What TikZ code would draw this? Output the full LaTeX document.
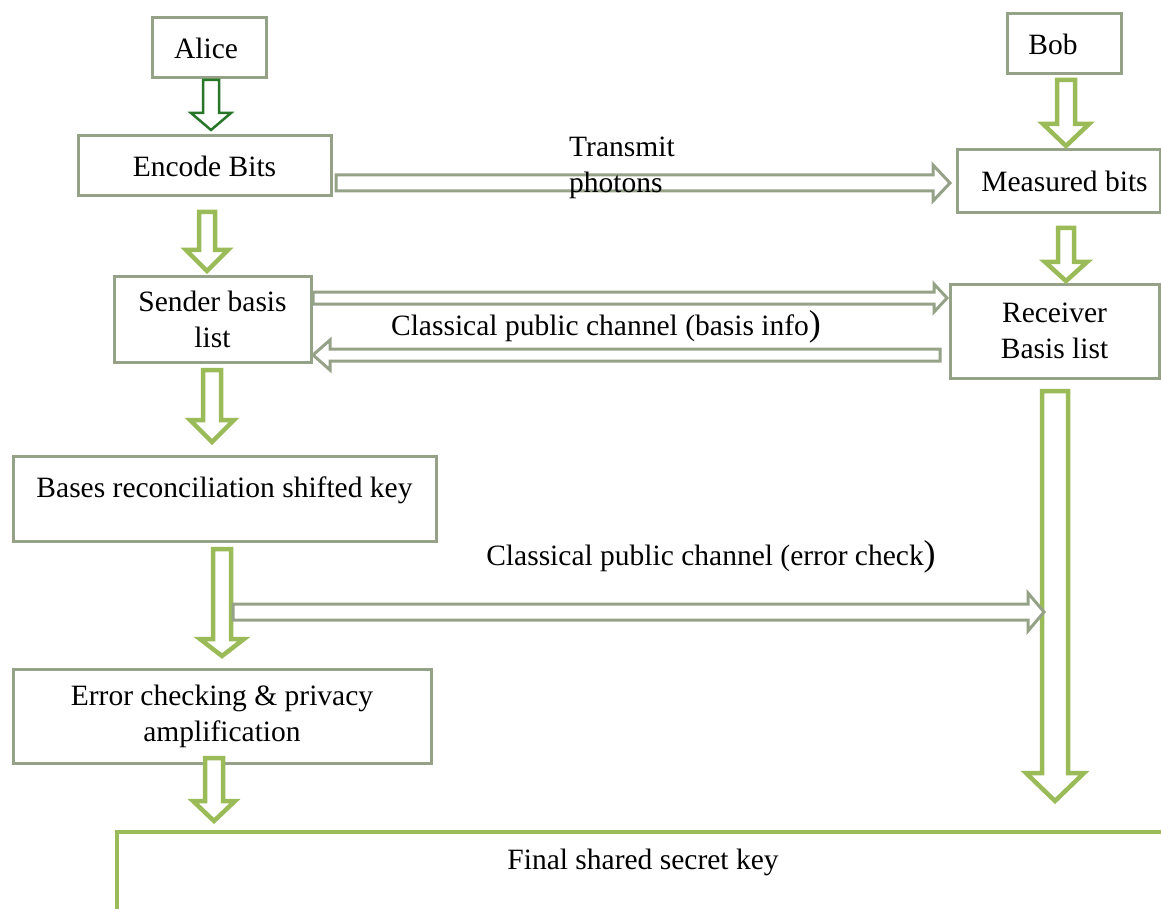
\documentclass[tikz,border=0pt]{standalone}
\usepackage{fontspec}
\setmainfont{Liberation Serif}
\definecolor{boxgray}{RGB}{150,162,136}
\definecolor{lgreen}{RGB}{155,187,89}
\definecolor{dgreen}{RGB}{40,118,40}
\newcommand{\dnblock}[7]{% style, cx, ytop, ybase, ytip, halfshaft, halfhead
  \draw[#1] ({#2-#6},#3) -- ({#2-#6},#4) -- ({#2-#7},#4) -- (#2,#5) -- ({#2+#7},#4) -- ({#2+#6},#4) -- ({#2+#6},#3) -- cycle;}
\newcommand{\rtblock}[7]{% style, cy, xstart, xbase, xtip, halfshaft, halfhead
  \draw[#1] (#3,{#2-#6}) -- (#4,{#2-#6}) -- (#4,{#2-#7}) -- (#5,#2) -- (#4,{#2+#7}) -- (#4,{#2+#6}) -- (#3,{#2+#6}) -- cycle;}
\begin{document}
\begin{tikzpicture}[x=1pt,y=-1pt,
  box/.style={draw=boxgray, line width=3pt, fill=white, inner sep=0pt, align=center,
    font=\fontsize{29.5}{36}\selectfont},
  txt/.style={inner sep=0pt, align=center, font=\fontsize{29.5}{36}\selectfont},
  garrow/.style={draw=lgreen, line width=4.5pt, fill=white, line join=miter},
  darrow/.style={draw=dgreen, line width=2.5pt, fill=white, line join=miter},
  harrow/.style={draw=boxgray, line width=3pt, fill=white, line join=miter}]
\useasboundingbox (0,0) rectangle (1161,909);
% boxes
\node[box, minimum width=114pt, minimum height=60pt] (alice) at (209,48) {};
\node[txt] (alicetxt) at ([xshift=-3pt]alice.center) {Alice};
\node[box, minimum width=253pt, minimum height=60pt] (encode) at (204.5,166) {Encode Bits};
\node[box, minimum width=114pt, minimum height=60pt] (bob) at (1064,44) {};
\node[txt] (bobtxt) at ([xshift=-11pt]bob.center) {Bob};
\node[box, minimum width=203pt, minimum height=63pt] (measured) at (1058.5,181.5) {};
\node[txt] (measuredtxt) at ([xshift=6pt]measured.center) {Measured bits};
\node[box, minimum width=197pt, minimum height=86pt] (sender) at (212.5,319) {Sender basis\\list};
\node[box, minimum width=209pt, minimum height=94pt] (receiver) at (1054.5,331) {Receiver\\Basis list};
\node[box, minimum width=423pt, minimum height=85pt] (bases) at (224.5,498.5) {};
\node[txt] (basestxt) at (224.5,490) {Bases reconciliation shifted key};
\node[box, minimum width=418pt, minimum height=94pt] (error) at (222,716) {Error checking \& privacy\\amplification};
% final box (clipped)
\coordinate (fbl) at (117,909);
\coordinate (ftl) at (117,832);
\coordinate (ftr) at (1161,832);
\draw[lgreen, line width=4.5pt] (fbl) -- (ftl) -- (ftr);
\node[txt] (final) at (643,862) {Final shared secret key};
% vertical block arrows
\dnblock{darrow}{211}{80}{113}{130}{8}{20}
\dnblock{garrow}{1066}{80}{124}{146}{9}{23}
\dnblock{garrow}{1066}{228}{262}{281}{8}{21}
\dnblock{garrow}{207}{212}{250}{271}{8}{21}
\dnblock{garrow}{212}{370}{420}{442}{9}{22}
\dnblock{garrow}{1055}{391}{773}{801}{13}{29}
\dnblock{garrow}{222}{549}{639}{656}{9}{22}
\dnblock{garrow}{214}{758}{801}{821}{9}{21}
% horizontal block arrows
\rtblock{harrow}{183}{336}{933}{950}{8}{18}
\rtblock{harrow}{298}{313}{934}{947}{6}{14}
\rtblock{harrow}{355}{940}{330}{313}{6}{15}
\rtblock{harrow}{612}{233}{1028}{1044}{8}{19}
% labels
\node[txt, align=left, anchor=west] (transmit) at (569,168) {Transmit\\photons};
\node[txt] (basisinfo) at (606,327) {Classical public channel (basis info{\fontsize{36}{36}\selectfont )}};
\node[txt] (errcheck) at (711,557) {Classical public channel (error check{\fontsize{36}{36}\selectfont )}};
\end{tikzpicture}
\end{document}
